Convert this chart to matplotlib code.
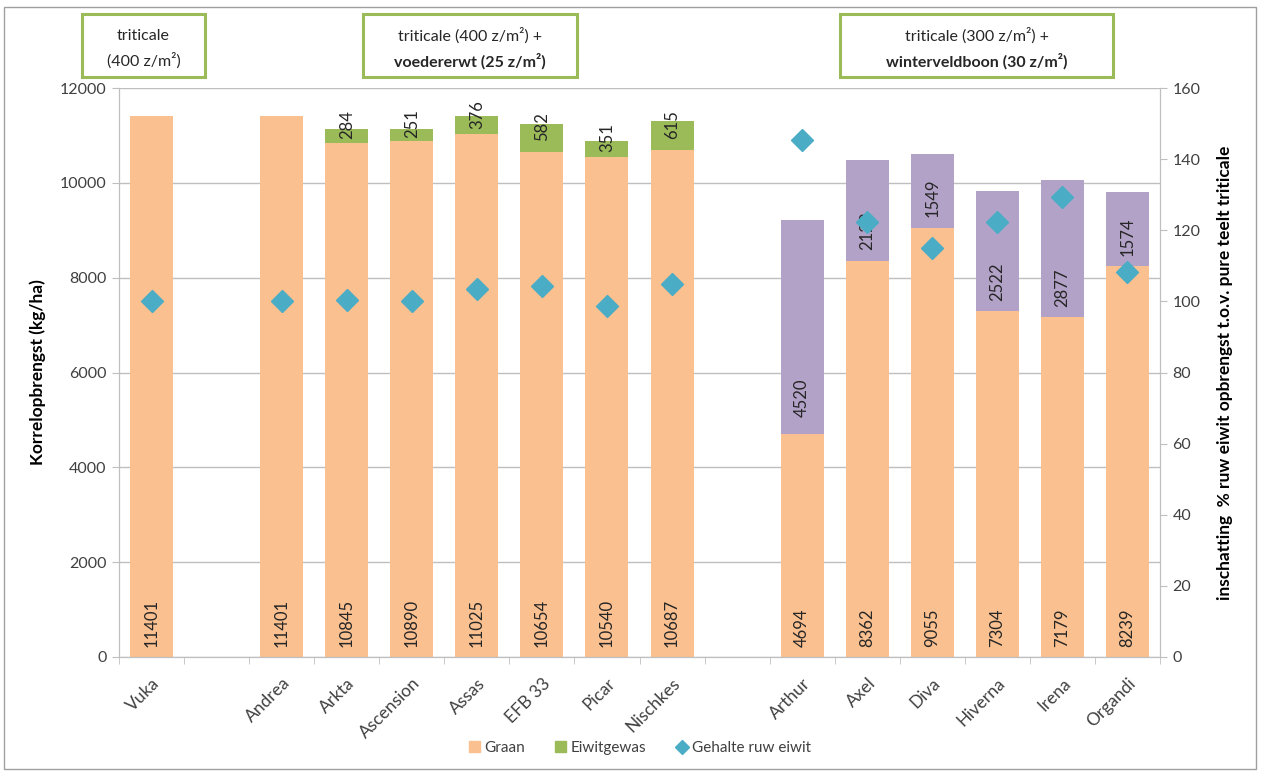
import matplotlib
matplotlib.use('Agg')
import matplotlib.pyplot as plt
import numpy as np
from matplotlib.patches import Rectangle, Patch
from matplotlib.lines import Line2D

plt.rcParams['font.family'] = ['Lato', 'DejaVu Sans']

# ---- data ----
categories = ['Vuka', '', 'Andrea', 'Arkta', 'Ascension', 'Assas', 'EFB 33', 'Picar',
              'Nischkes', '', 'Arthur', 'Axel', 'Diva', 'Hiverna', 'Irena', 'Organdi']
nan = np.nan
graan = [11401, nan, 11401, 10845, 10890, 11025, 10654, 10540, 10687, nan,
         4694, 8362, 9055, 7304, 7179, 8239]
erwt = [nan, nan, nan, 284, 251, 376, 582, 351, 615, nan,
        nan, nan, nan, nan, nan, nan]
boon = [nan, nan, nan, nan, nan, nan, nan, nan, nan, nan,
        4520, 2123, 1549, 2522, 2877, 1574]
eiwit = [100, nan, 100, 100.4, 100.2, 103.5, 104.2, 98.8, 105.0, nan,
         145.4, 122.3, 115.1, 122.3, 129.3, 108.3]

# label offsets (pixels, positive = down) for boon labels, as in the original
boon_label_shift = [0] * 10 + [70, 21, 7, 31, 39, 8]

C_GRAAN = '#FAC090'
C_ERWT = '#9BBB59'
C_BOON = '#B3A2C7'
C_DIAM = '#4BACC6'
C_GRID = '#BFBFBF'
C_TXT = '#404040'

W, H = 1261, 773
fig = plt.figure(figsize=(W / 100, H / 100), dpi=100)
ax = fig.add_axes([119 / W, (H - 657) / H, 1041 / W, 569 / H])

x = np.arange(len(categories))
g = np.array(graan, dtype=float)
e = np.array(erwt, dtype=float)
b = np.array(boon, dtype=float)
bw = 0.66

ax.bar(x, g, width=bw, color=C_GRAAN, zorder=2)
ax.bar(x, e, width=bw, bottom=g, color=C_ERWT, zorder=2)
ax.bar(x, b, width=bw, bottom=g, color=C_BOON, zorder=2)

px = 0.72  # points per pixel
LBL = 12
for i in range(len(x)):
    if not np.isnan(g[i]):
        ax.annotate(f'{int(g[i])}', (x[i], 0), xytext=(0, 10 * px), textcoords='offset points',
                    rotation=90, ha='center', va='bottom', fontsize=LBL, color='#262626', zorder=5)
    if not np.isnan(e[i]):
        ax.annotate(f'{int(e[i])}', (x[i], g[i] + e[i] / 2), xytext=(0, 11 * px),
                    textcoords='offset points', rotation=90, ha='center', va='center',
                    fontsize=LBL, color='#262626', zorder=5)
    if not np.isnan(b[i]):
        ax.annotate(f'{int(b[i])}', (x[i], g[i] + b[i] / 2), xytext=(0, -boon_label_shift[i] * px),
                    textcoords='offset points', rotation=90, ha='center', va='center',
                    fontsize=LBL, color='#262626', zorder=5)

ax.set_xlim(-0.5, len(categories) - 0.5)
ax.set_ylim(0, 12000)
ax.set_yticks(np.arange(0, 12001, 2000))
ax.yaxis.grid(True, color=C_GRID, lw=1)
ax.set_axisbelow(True)
ax.tick_params(axis='y', length=5, color=C_GRID, labelsize=11.5, labelcolor=C_TXT, pad=4)
ax.set_xticks(x)
ax.set_xticklabels(categories, rotation=45, ha='right', rotation_mode='anchor',
                   fontsize=12.5, color=C_TXT)
ax.tick_params(axis='x', which='major', length=0, pad=13)
ax.set_xticks(np.arange(-0.5, len(categories), 1.0), minor=True)
ax.tick_params(axis='x', which='minor', length=5, color=C_GRID)
for s in ['top']:
    ax.spines[s].set_visible(False)
for s in ['left', 'right', 'bottom']:
    ax.spines[s].set_color(C_GRID)
ax.set_ylabel('Korrelopbrengst (kg/ha)', fontsize=12.5, fontweight='bold', labelpad=10)

ax2 = ax.twinx()
ax2.set_ylim(0, 160)
ax2.set_yticks(np.arange(0, 161, 20))
ax2.plot(x, eiwit, linestyle='none', marker='D', markersize=11, color=C_DIAM, zorder=6)
ax2.tick_params(axis='y', length=5, color=C_GRID, labelsize=11.5, labelcolor=C_TXT, pad=4)
for s in ['top']:
    ax2.spines[s].set_visible(False)
for s in ['left', 'right', 'bottom']:
    ax2.spines[s].set_color(C_GRID)
ax2.set_ylabel('inschatting  % ruw eiwit opbrengst t.o.v. pure teelt triticale',
               fontsize=12.5, fontweight='bold', labelpad=12)

# header boxes
boxes = [
    (82, 205, ['triticale', '(400 z/m²)'], ['normal', 'normal']),
    (363, 577, ['triticale (400 z/m²) +', 'voedererwt (25 z/m²)'], ['normal', 'bold']),
    (840, 1113, ['triticale (300 z/m²) +', 'winterveldboon (30 z/m²)'], ['normal', 'bold']),
]
for x0, x1, lines, weights in boxes:
    fig.patches.append(Rectangle((x0 / W, (H - 77) / H), (x1 - x0) / W, 63 / H,
                                 transform=fig.transFigure, facecolor='white',
                                 edgecolor=C_ERWT, lw=2.2))
    xc = (x0 + x1) / 2 / W
    fig.text(xc, (H - 36) / H, lines[0], ha='center', va='center', fontsize=11.5,
             fontweight=weights[0], color='#262626')
    fig.text(xc, (H - 61) / H, lines[1], ha='center', va='center', fontsize=11.5,
             fontweight=weights[1], color='#262626')

# outer border
fig.patches.append(Rectangle((4 / W, 4 / H), 1252 / W, 762 / H, transform=fig.transFigure,
                             facecolor='none', edgecolor='#A0A0A0', lw=1))

handles = [Patch(color=C_GRAAN, label='Graan'),
           Patch(color=C_ERWT, label='Eiwitgewas'),
           Line2D([], [], linestyle='none', marker='D', markersize=7, color=C_DIAM,
                  label='Gehalte ruw eiwit')]
fig.legend(handles=handles, loc='center', bbox_to_anchor=(640 / W, (H - 748) / H), ncol=3,
           frameon=False, fontsize=11, handlelength=0.7, handleheight=0.7,
           handletextpad=0.3, columnspacing=2.0, labelcolor=C_TXT)

fig.savefig('out.png', dpi=100)
